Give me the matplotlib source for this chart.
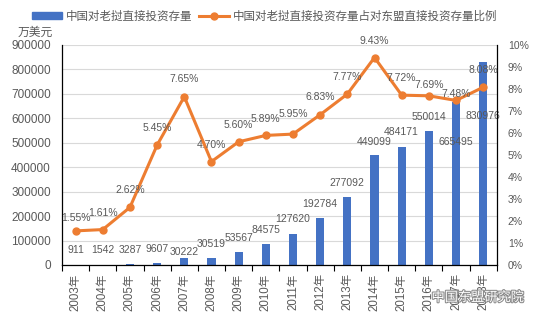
import matplotlib.pyplot as plt
import matplotlib.patheffects as pe
import numpy as np

plt.rcParams['font.family'] = ['Liberation Sans', 'Noto Sans CJK SC', 'DejaVu Sans']

years = ["2003年", "2004年", "2005年", "2006年", "2007年", "2008年", "2009年", "2010年",
         "2011年", "2012年", "2013年", "2014年", "2015年", "2016年", "2017年", "2018年"]
stock = [911, 1542, 3287, 9607, 30222, 30519, 53567, 84575,
         127620, 192784, 277092, 449099, 484171, 550014, 665495, 830976]
ratio = [1.55, 1.61, 2.62, 5.45, 7.65, 4.70, 5.60, 5.89,
         5.95, 6.83, 7.77, 9.43, 7.72, 7.69, 7.48, 8.08]
# label offsets (pixels above the mark)
bar_off = [15, 15, 14, 14, 6, 14, 14, 14, 15, 14, 14, 13, 15, 14, -40, -54]
line_off = [13, 17, 17, 17, 18, 17, 17, 16, 20, 18, 17, 17, 17, 11, 6, 17]

blue = "#4472C4"
orange = "#ED7D31"
grey = "#595959"

fig = plt.figure(figsize=(5.4, 3.23), dpi=100)
ax = fig.add_axes([0.1148, 0.1796, 0.8052, 0.6811])
x = np.arange(len(years))

ax.bar(x, stock, width=0.3, color=blue, zorder=2)
ax.set_ylim(0, 900000)
ax.set_yticks(np.arange(0, 900001, 100000))
ax.set_xlim(-0.5, len(years) - 0.5)
ax.set_xticks(x)
ax.set_xticklabels(years, rotation=90, fontsize=8.3, color=grey)
ax.set_xticks(np.arange(-0.5, len(years), 1), minor=True)
ax.tick_params(axis='x', which='major', length=0, pad=6)
ax.tick_params(axis='x', which='minor', length=4, color='black', width=0.8)
ax.tick_params(axis='y', length=0, labelsize=8.5, labelcolor=grey, pad=8)
ax.grid(axis='y', color='#D9D9D9', linewidth=0.8, zorder=0)
ax.set_axisbelow(True)
ax.spines['top'].set_visible(False)
ax.spines['right'].set_visible(False)
for s in ['left', 'bottom']:
    ax.spines[s].set_color('black')
    ax.spines[s].set_linewidth(0.9)

for xi, v, off in zip(x, stock, bar_off):
    ax.annotate(str(v), (xi, v), xytext=(0, off), textcoords='offset pixels',
                ha='center', va='center', fontsize=7.5, color=grey, zorder=5)

ax2 = ax.twinx()
ax2.plot(x, ratio, color=orange, linewidth=2.2, marker='o', markersize=5, zorder=3)
ax2.set_ylim(0, 10)
ax2.set_yticks(np.arange(0, 11, 1))
ax2.set_yticklabels([f"{i}%" for i in range(11)])
ax2.tick_params(axis='y', length=0, labelsize=7.5, labelcolor=grey, pad=8)
ax2.spines['top'].set_visible(False)
ax2.spines['left'].set_visible(False)
ax2.spines['bottom'].set_visible(False)
ax2.spines['right'].set_color('black')
ax2.spines['right'].set_linewidth(0.9)

for xi, v, off in zip(x, ratio, line_off):
    ax2.annotate(f"{v:.2f}%", (xi, v), xytext=(0, off), textcoords='offset pixels',
                 ha='center', va='center', fontsize=7.5, color=grey, zorder=5)

fig.text(0.033, 0.897, "万美元", fontsize=8.5, color=grey, ha='left', va='center')

# legend
from matplotlib.patches import Patch
from matplotlib.lines import Line2D
handles = [Patch(color=blue), Line2D([0], [0], color=orange, linewidth=2.2, marker='o', markersize=5)]
labels = ["中国对老挝直接投资存量", "中国对老挝直接投资存量占对东盟直接投资存量比例"]
leg = fig.legend(handles, labels, loc='center', bbox_to_anchor=(0.49, 0.948), ncol=2,
                 frameon=False, fontsize=8.3, handlelength=2.6, handleheight=0.5,
                 columnspacing=0.6, handletextpad=0.3)
for t in leg.get_texts():
    t.set_color(grey)

fig.text(0.885, 0.078, "中国东盟研究院", fontsize=9.5, color='white', ha='center', va='center',
         path_effects=[pe.withStroke(linewidth=1.5, foreground='#8a8a8a')])

fig.savefig("out.png", dpi=100)
